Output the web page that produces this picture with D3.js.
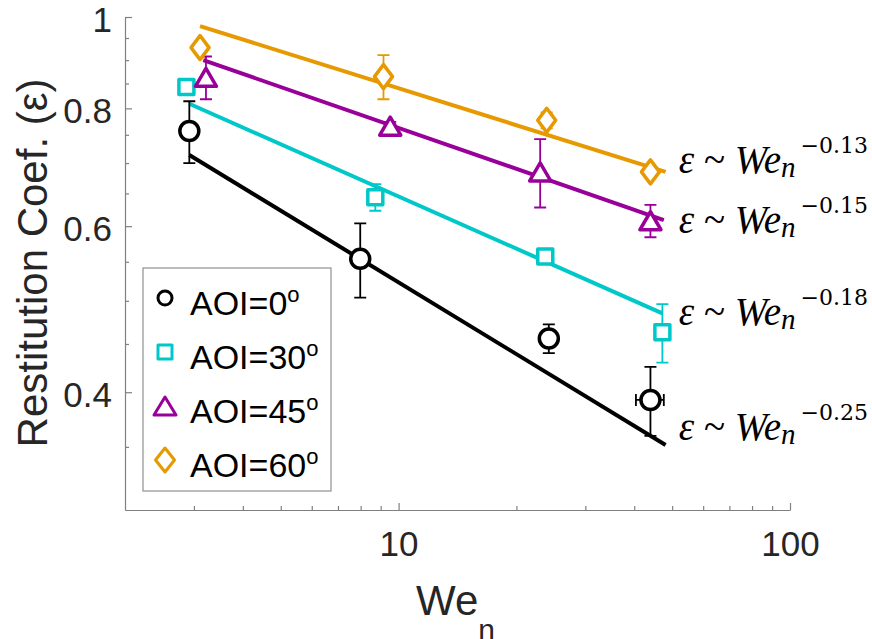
<!DOCTYPE html>
<html lang="en">
<head>
<meta charset="UTF-8">
<script src="https://cdn.jsdelivr.net/npm/d3@7"></script>
<style>
  body{margin:0;background:#fff;}
  svg text{font-family:"Liberation Sans",Arial,sans-serif;fill:#262626;}
  .axis path,.axis line{stroke:#808080;stroke-width:1.2;}
  .math text,.math tspan{font-family:"Liberation Serif","Times New Roman",serif;fill:#000;}
</style>
<title>restitution vs We</title>
</head>
<body>
<script>
// categories
var seriesNames = ["AOI=0", "AOI=30", "AOI=45", "AOI=60"];
var colors = ["#000000", "#00c8c8", "#990099", "#e69900"];
var shapes = ["circle", "square", "triangle", "diamond"];

// measured points: We_n and restitution coef
var we0 = [2.92, 7.98, 24.2, 44.0];
var eps0 = [0.757, 0.554, 0.456, 0.3925];
var epsErr0 = [0.057, 0.050, 0.016, 0.033];
var weErr0 = [0, 0, 0.7, 3.6];

var we30 = [2.87, 8.72, 23.7, 47.2];
var eps30 = [0.843, 0.644, 0.557, 0.463];
var epsErr30 = [0.008, 0.021, 0.008, 0.033];
var weErr30 = [0, 0, 0, 0];

var we45 = [3.22, 9.52, 23.0, 44.0];
var eps45 = [0.863, 0.766, 0.685, 0.608];
var epsErr45 = [0.045, 0.008, 0.057, 0.024];
var weErr45 = [0, 0, 0, 0];

var we60 = [3.11, 9.15, 23.9, 44.0];
var eps60 = [0.928, 0.8645, 0.777, 0.685];
var epsErr60 = [0.008, 0.0465, 0.015, 0.008];
var weErr60 = [0, 0, 0.8, 0];

// power-law fits, drawn between two ends
var fitExponents = ["-0.25", "-0.18", "-0.15", "-0.13"];
var fitWeStart = [2.92, 2.92, 3.17, 3.11];
var fitWeEnd = [48.1, 47.2, 47.6, 48.1];
var fitEpsStart = [0.714, 0.809, 0.900, 0.978];
var fitEpsEnd = [0.3516, 0.485, 0.609, 0.685];
var labelEps = [0.356, 0.471, 0.590, 0.683];
var labelWe = 52;

// ticks
var xMajor = [10, 100];
var xMinor = [3, 4, 5, 6, 7, 8, 9, 20, 30, 40, 50, 60, 70, 80, 90];
var yMajor = [0.4, 0.6, 0.8, 1];
var yMinor = [0.35, 0.45, 0.5, 0.55, 0.65, 0.7, 0.75, 0.85, 0.9, 0.95];

var series = [
  {we: we0, eps: eps0, epsErr: epsErr0, weErr: weErr0},
  {we: we30, eps: eps30, epsErr: epsErr30, weErr: weErr30},
  {we: we45, eps: eps45, epsErr: epsErr45, weErr: weErr45},
  {we: we60, eps: eps60, epsErr: epsErr60, weErr: weErr60}
].map(function(s, i){
  s.name = seriesNames[i];
  s.color = colors[i];
  s.shape = shapes[i];
  s.points = s.we.map(function(w, j){
    return {we: w, eps: s.eps[j], epsErr: s.epsErr[j], weErr: s.weErr[j]};
  });
  return s;
});

var svg = d3.select("body").append("svg")
  .attr("width", 872)
  .attr("height", 639);

var x = d3.scaleLog().domain([2, 100]).range([125, 790]);
var y = d3.scaleLog().domain([0.3, 1]).range([510, 17]);

// axes (ticks inward)
var xAxis = svg.append("g").attr("class", "axis")
  .attr("transform", "translate(0,510)")
  .call(d3.axisBottom(x).tickValues(xMajor).tickFormat(d3.format("d"))
    .tickSizeInner(-7).tickSizeOuter(0).tickPadding(21));
xAxis.selectAll("text").style("font-size", "35px");
svg.append("g").attr("class", "axis")
  .attr("transform", "translate(0,510)")
  .call(d3.axisBottom(x).tickValues(xMinor).tickFormat("")
    .tickSizeInner(-4).tickSizeOuter(0))
  .select(".domain").remove();

var yAxis = svg.append("g").attr("class", "axis")
  .attr("transform", "translate(125,0)")
  .call(d3.axisLeft(y).tickValues(yMajor).tickFormat(function(d){ return d === 1 ? "1" : d3.format(".1f")(d); })
    .tickSizeInner(-7).tickSizeOuter(0).tickPadding(13));
yAxis.selectAll("text").style("font-size", "35px").attr("dy", "0.4em");
svg.append("g").attr("class", "axis")
  .attr("transform", "translate(125,0)")
  .call(d3.axisLeft(y).tickValues(yMinor).tickFormat("")
    .tickSizeInner(-4).tickSizeOuter(0))
  .select(".domain").remove();

// axis titles
svg.append("text")
  .attr("transform", "translate(47,263) rotate(-90)")
  .attr("text-anchor", "middle")
  .style("font-size", "42px")
  .text("Restitution Coef. (\u03b5)");

var xt = svg.append("text")
  .attr("x", 416).attr("y", 615)
  .style("font-size", "42px")
  .text("We");
xt.append("tspan").attr("dy", 25).style("font-size", "30px").text("n");

function markerPath(shape, big){
  var p = d3.path();
  if (shape === "circle") {
    var r = big ? 9.5 : 7;
    p.moveTo(r, 0); p.arc(0, 0, r, 0, 2 * Math.PI);
  } else if (shape === "square") {
    var s = big ? 15 : 14;
    p.rect(-s / 2, -s / 2, s, s);
  } else if (shape === "triangle") {
    var w = big ? 21 : 22, h = 18;
    p.moveTo(0, -h / 2); p.lineTo(w / 2, h / 2); p.lineTo(-w / 2, h / 2); p.closePath();
  } else {
    var dw = big ? 18 : 19, dh = 24;
    p.moveTo(0, -dh / 2); p.lineTo(dw / 2, 0); p.lineTo(0, dh / 2); p.lineTo(-dw / 2, 0); p.closePath();
  }
  return p.toString();
}

// fit lines
svg.append("g").selectAll("line")
  .data(series)
  .enter().append("line")
  .attr("x1", function(d, i){ return x(fitWeStart[i]); })
  .attr("y1", function(d, i){ return y(fitEpsStart[i]); })
  .attr("x2", function(d, i){ return x(fitWeEnd[i]); })
  .attr("y2", function(d, i){ return y(fitEpsEnd[i]); })
  .attr("stroke", function(d){ return d.color; })
  .attr("stroke-width", 4);

// error bars and markers
var cap = 6;
series.forEach(function(s){
  var g = svg.append("g");
  var pts = g.selectAll("g").data(s.points).enter().append("g");
  pts.filter(function(d){ return d.epsErr > 0; }).each(function(d){
    var e = d3.select(this), cx = x(d.we);
    var y1 = y(d.eps - d.epsErr), y2 = y(d.eps + d.epsErr);
    e.append("path")
      .attr("d", "M" + cx + "," + y1 + "V" + y2 +
        "M" + (cx - cap) + "," + y1 + "H" + (cx + cap) +
        "M" + (cx - cap) + "," + y2 + "H" + (cx + cap))
      .attr("stroke", s.color).attr("stroke-width", 1.8).attr("fill", "none");
  });
  pts.filter(function(d){ return d.weErr > 0; }).each(function(d){
    var e = d3.select(this), cy = y(d.eps);
    var x1 = x(d.we - d.weErr), x2 = x(d.we + d.weErr);
    e.append("path")
      .attr("d", "M" + x1 + "," + cy + "H" + x2 +
        "M" + x1 + "," + (cy - cap) + "V" + (cy + cap) +
        "M" + x2 + "," + (cy - cap) + "V" + (cy + cap))
      .attr("stroke", s.color).attr("stroke-width", 1.8).attr("fill", "none");
  });
  pts.append("path")
    .attr("transform", function(d){ return "translate(" + x(d.we) + "," + y(d.eps) + ")"; })
    .attr("d", markerPath(s.shape, true))
    .attr("fill", "#fff")
    .attr("stroke", s.color)
    .attr("stroke-width", 3.5)
    .attr("stroke-linejoin", "round");
});

// power-law labels
var ann = svg.append("g").attr("class", "math");
series.forEach(function(s, i){
  var t = ann.append("text")
    .attr("x", x(labelWe)).attr("y", y(labelEps[i]))
    .style("font-size", "39px");
  t.append("tspan").style("font-style", "italic").text("\u03b5");
  t.append("tspan").text(" ~ ");
  t.append("tspan").style("font-style", "italic").text("We");
  t.append("tspan").attr("dy", 4).style("font-style", "italic").style("font-size", "29px").text("n");
  t.append("tspan").attr("dy", -24).attr("dx", 5)
    .style("font-family", "'DejaVu Serif',serif").style("font-size", "22px")
    .text("\u2212" + fitExponents[i].slice(1));
});

// legend
var lg = svg.append("g").attr("transform", "translate(143,268)");
lg.append("rect")
  .attr("width", 188).attr("height", 223)
  .attr("fill", "#fff").attr("stroke", "#999").attr("stroke-width", 1.3);
var items = lg.selectAll("g.item").data(series).enter().append("g")
  .attr("class", "item")
  .attr("transform", function(d, i){ return "translate(0," + (47 + i * 54) + ")"; });
items.append("path")
  .attr("transform", "translate(22,-17)")
  .attr("d", function(d){ return markerPath(d.shape, false); })
  .attr("fill", "none")
  .attr("stroke", function(d){ return d.color; })
  .attr("stroke-width", 3)
  .attr("stroke-linejoin", "round");
var lt = items.append("text")
  .attr("x", 47).attr("y", 0)
  .style("font-size", "34px")
  .style("fill", "#000")
  .text(function(d){ return d.name; });
lt.append("tspan").attr("dy", -13).style("font-size", "22px").text("o");
</script>
</body>
</html>
